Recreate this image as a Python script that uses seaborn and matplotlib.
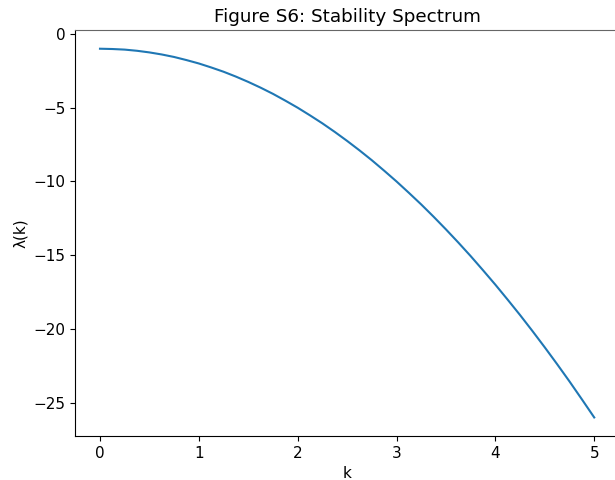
import numpy as np
import pandas as pd
import seaborn as sns
import matplotlib
matplotlib.use("Agg")
import matplotlib.pyplot as plt

plt.rcParams['font.size'] = 11

# values
k_vals = [0.0, 0.125, 0.25, 0.375, 0.5, 0.625, 0.75, 0.875, 1.0, 1.125,
          1.25, 1.375, 1.5, 1.625, 1.75, 1.875, 2.0, 2.125, 2.25, 2.375,
          2.5, 2.625, 2.75, 2.875, 3.0, 3.125, 3.25, 3.375, 3.5, 3.625,
          3.75, 3.875, 4.0, 4.125, 4.25, 4.375, 4.5, 4.625, 4.75, 4.875, 5.0]
lam_vals = [-1.0, -1.02, -1.06, -1.14, -1.25, -1.39, -1.56, -1.77, -2.0, -2.27,
            -2.56, -2.89, -3.25, -3.64, -4.06, -4.52, -5.0, -5.52, -6.06, -6.64,
            -7.25, -7.89, -8.56, -9.27, -10.0, -10.77, -11.56, -12.39, -13.25, -14.14,
            -15.06, -16.02, -17.0, -18.02, -19.06, -20.14, -21.25, -22.39, -23.56, -24.77, -26.0]

df = pd.DataFrame({"k": k_vals, "lam": lam_vals})

fig = plt.figure(figsize=(6.15, 4.8), dpi=100)
ax = fig.add_axes([0.1224, 0.0919, 0.884, 0.845])

sns.lineplot(data=df, x="k", y="lam", ax=ax, color="#1f77b4", linewidth=1.5)

ax.set_title("Figure S6: Stability Spectrum")
ax.set_xlabel("k")
ax.set_ylabel("λ(k)")
ax.spines["right"].set_visible(False)
ax.spines["top"].set_color("0.4")

fig.savefig("out.png", dpi=100)
